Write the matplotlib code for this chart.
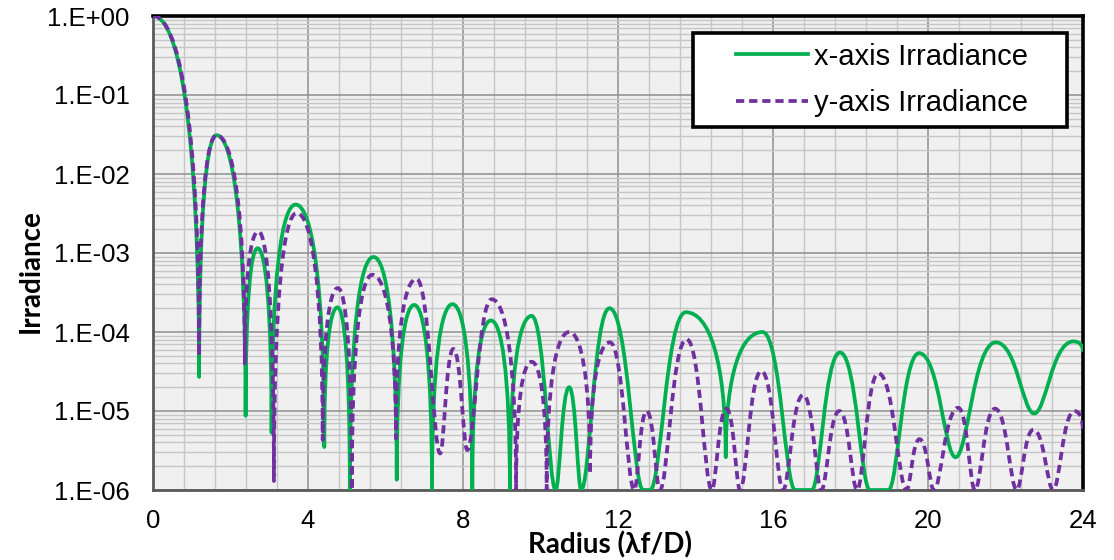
import numpy as np
import matplotlib
matplotlib.use("Agg")
import matplotlib.pyplot as plt
from matplotlib.path import Path
from matplotlib.patches import PathPatch, Rectangle
from matplotlib.lines import Line2D
from matplotlib.ticker import MultipleLocator, LogLocator, FixedLocator, NullFormatter

# ---- data (alternating peaks and nulls) ----
x_axis_r = [0, 1.19, 1.64, 2.39, 2.70, 3.06, 3.68, 4.42, 4.76, 5.08, 5.69, 6.29, 6.74,
            7.20, 7.73, 8.24, 8.72, 9.21, 9.77, 10.39, 10.74, 11.05, 11.78, 12.65, 12.83,
            13.75, 14.78, 15.73, 16.57, 17.00, 17.73, 18.50, 18.98, 19.77, 20.71, 21.75,
            22.74, 23.75, 24.0]
x_axis_irr = [1.0, 2.7e-5, 3.1e-2, 8.7e-6, 1.15e-3, 5.3e-6, 4.1e-3, 3.5e-6, 2.05e-4, 1e-6,
              8.9e-4, 1.35e-6, 2.2e-4, 1e-6, 2.25e-4, 1e-6, 1.4e-4, 1e-6, 1.6e-4, 1e-6,
              2.0e-5, 1e-6, 2.0e-4, 1e-6, 1e-6, 1.78e-4, 2.6e-6, 1.0e-4, 1e-6, 1e-6, 5.5e-5,
              1e-6, 1e-6, 5.4e-5, 2.6e-6, 7.4e-5, 9.3e-6, 7.6e-5, 5.6e-5]

y_axis_r = [0, 1.19, 1.64, 2.37, 2.72, 3.12, 3.71, 4.38, 4.77, 5.13, 5.66, 6.27, 6.80, 7.41,
            7.75, 8.11, 8.74, 9.37, 9.77, 10.16, 10.74, 11.28, 11.79, 12.42, 12.74, 13.08,
            13.77, 14.42, 14.80, 15.15, 15.70, 16.26, 16.78, 17.25, 17.71, 18.17, 18.72,
            19.45, 19.78, 20.15, 20.78, 21.21, 21.73, 22.29, 22.72, 23.23, 23.78, 24.0]
y_axis_irr = [1.0, 5e-5, 3.1e-2, 4e-5, 1.87e-3, 1.3e-6, 3.2e-3, 4.3e-6, 3.6e-4, 1e-6, 5.3e-4,
              4.5e-6, 4.7e-4, 2.9e-6, 6.1e-5, 3.2e-6, 2.6e-4, 1e-6, 4.2e-5, 1e-6, 1.0e-4,
              1.6e-6, 7.4e-5, 1e-6, 1.0e-5, 1e-6, 8.1e-5, 1e-6, 1.07e-5, 1e-6, 3.2e-5, 1e-6,
              1.6e-5, 1e-6, 1.0e-5, 1e-6, 3.0e-5, 1e-6, 4.4e-6, 1e-6, 1.1e-5, 1e-6, 1.07e-5,
              1e-6, 5.8e-6, 1e-6, 1.0e-5, 5.2e-6]

series_labels = ["x-axis Irradiance", "y-axis Irradiance"]
y_ticks = [1e0, 1e-1, 1e-2, 1e-3, 1e-4, 1e-5, 1e-6]
y_tick_labels = ["1.E+00", "1.E-01", "1.E-02", "1.E-03", "1.E-04", "1.E-05", "1.E-06"]
x_ticks = [0, 4, 8, 12, 16, 20, 24]

GREEN = "#00b050"
PURPLE = "#7030a0"


def lobe_path(xs, ys):
    """Smooth path through alternating peaks / nulls (Bezier in log space)."""
    xs = np.asarray(xs, float)
    ls = np.log10(np.asarray(ys, float))
    n = len(xs)
    verts = [(xs[0], 10 ** ls[0])]
    codes = [Path.MOVETO]

    def depth(i):
        d = []
        if i > 0:
            d.append(ls[i - 1] - ls[i])
        if i < n - 1:
            d.append(ls[i + 1] - ls[i])
        return min(d) if d else 0

    for i in range(n - 1):
        x0, x1, l0, l1 = xs[i], xs[i + 1], ls[i], ls[i + 1]
        dx = x1 - x0
        if abs(l0 - l1) < 1e-9:
            verts.append((x1, 10 ** l1))
            codes.append(Path.LINETO)
            continue
        if l0 > l1:  # peak -> null (descending)
            c1 = (x0 + 0.55 * dx, l0)
            if depth(i + 1) < 1.5 and i + 1 < n - 1:
                c2 = (x1 - 0.3 * dx, l1)
            else:
                c2 = (x1, l1 + 0.7 * (l0 - l1))
        else:  # null -> peak (ascending)
            if depth(i) < 1.5 and i > 0:
                c1 = (x0 + 0.3 * dx, l0)
            else:
                c1 = (x0, l0 + 0.7 * (l1 - l0))
            c2 = (x1 - 0.55 * dx, l1)
        verts += [(c1[0], 10 ** c1[1]), (c2[0], 10 ** c2[1]), (x1, 10 ** l1)]
        codes += [Path.CURVE4] * 3
    return Path(verts, codes)


fig = plt.figure(figsize=(11.14, 5.6), dpi=100)
ax = fig.add_axes([153 / 1114, 1 - 490 / 560, 930 / 1114, 474 / 560])
ax.set_facecolor("#f0f0f0")
ax.set_yscale("log")
ax.set_xlim(0, 24)
ax.set_ylim(1e-6, 1)

LW = 2.7
dash = (0, (2.2, 1.3))

ax.add_patch(PathPatch(lobe_path(x_axis_r, x_axis_irr), fill=False, edgecolor=GREEN,
                       lw=LW, capstyle="butt", joinstyle="round", zorder=3))
ax.add_patch(PathPatch(lobe_path(y_axis_r, y_axis_irr), fill=False, edgecolor=PURPLE,
                       lw=LW, linestyle=dash, capstyle="butt", joinstyle="round", zorder=4))

# ticks / grid
ax.xaxis.set_major_locator(FixedLocator(x_ticks))
ax.xaxis.set_minor_locator(MultipleLocator(0.8))
ax.yaxis.set_major_locator(FixedLocator(y_ticks))
ax.yaxis.set_minor_locator(LogLocator(base=10, subs=np.arange(2, 10)))
ax.yaxis.set_minor_formatter(NullFormatter())
ax.set_yticklabels(y_tick_labels)
ax.tick_params(which="both", length=0)
ax.tick_params(axis="y", pad=17, labelsize=18.5)
ax.tick_params(axis="x", pad=14, labelsize=18.5)
for lab in ax.get_xticklabels() + ax.get_yticklabels():
    lab.set_fontfamily(["Liberation Sans", "DejaVu Sans"])
ax.grid(which="major", color="#8f8f8f", lw=1.1)
ax.grid(which="minor", color="#c6c6c6", lw=1.0)
ax.set_axisbelow(True)

for s in ["top", "right"]:
    ax.spines[s].set_color("black")
    ax.spines[s].set_linewidth(2.6)
for s in ["left", "bottom"]:
    ax.spines[s].set_color("#5a5a5a")
    ax.spines[s].set_linewidth(2.0)

# axis titles
lab_font = ["Lato", "DejaVu Sans"]
fig.text(31 / 1114, 1 - 271 / 560, "Irradiance", rotation=90, ha="center", va="center",
         fontsize=20, fontweight="bold", family=lab_font)
fig.text(610 / 1114, 1 - 545 / 560, "Radius (λf/D)", ha="center", va="center",
         fontsize=20, fontweight="bold", family=lab_font)

# legend box + legend
x0b, x1b = (693 - 153) / 930, (1067 - 153) / 930
y0b, y1b = (490 - 127) / 474, (490 - 33) / 474
ax.add_patch(Rectangle((x0b, y0b), x1b - x0b, y1b - y0b, transform=ax.transAxes,
                       facecolor="white", edgecolor="black", lw=2.6, zorder=6))
handles = [Line2D([], [], color=GREEN, lw=LW),
           Line2D([], [], color=PURPLE, lw=LW, linestyle=dash)]
leg = ax.legend(handles, series_labels, loc="center",
                bbox_to_anchor=((882 - 153) / 930, (490 - 80) / 474),
                frameon=False, prop={"family": ["Liberation Sans", "DejaVu Sans"], "size": 21},
                handlelength=2.45, handletextpad=0.2, labelspacing=0.65, borderpad=0)
leg.set_zorder(7)

fig.savefig("out.png", dpi=100)
